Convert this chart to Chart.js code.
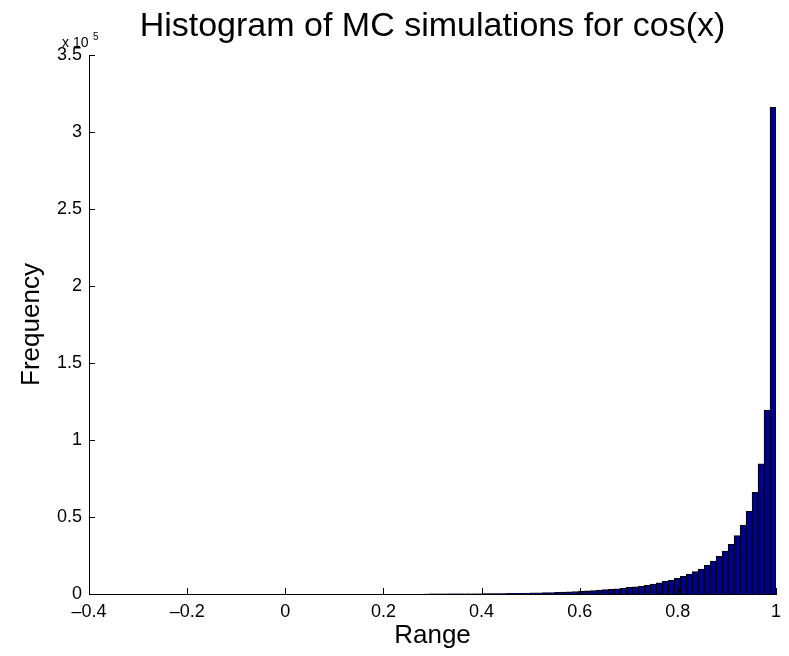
<!DOCTYPE html>
<html>
<head>
<meta charset="utf-8">
<script src="https://cdn.jsdelivr.net/npm/chart.js@4"></script>
<style>
  html, body { margin: 0; padding: 0; background: #fff; }
  #chart { display: block; }
</style>
</head>
<body>
<canvas id="chart" width="789" height="656"></canvas>
<script>
// --- bin centres (Range) and counts ---
const binCenters = [
  0.2863, 0.2985, 0.3107, 0.3229, 0.3351, 0.3473, 0.3595, 0.3717, 0.3839, 0.3961,
  0.4083, 0.4205, 0.4327, 0.4449, 0.4571, 0.4693, 0.4815, 0.4937, 0.5059, 0.5181,
  0.5303, 0.5425, 0.5547, 0.5669, 0.5791, 0.5913, 0.6035, 0.6157, 0.6279, 0.6401,
  0.6523, 0.6645, 0.6767, 0.6889, 0.7011, 0.7133, 0.7255, 0.7377, 0.7499, 0.7621,
  0.7743, 0.7865, 0.7987, 0.8109, 0.8231, 0.8353, 0.8475, 0.8597, 0.8719, 0.8841,
  0.8963, 0.9085, 0.9207, 0.9329, 0.9451, 0.9573, 0.9695, 0.9817, 0.9939
];
const counts = [
  20, 30, 40, 50, 60, 80, 100, 120, 150, 180,
  200, 250, 300, 350, 400, 450, 500, 600, 700, 800,
  900, 1000, 1100, 1200, 1400, 1600, 1800, 2000, 2200, 2500,
  2800, 3000, 3400, 3900, 4300, 4700, 5200, 5600, 6500, 7300,
  8200, 9100, 10200, 11500, 13000, 14500, 16200, 18600, 21400, 24500,
  27900, 32300, 37900, 44600, 53700, 66000, 84600, 119500, 316000
];
const xTicks = [-0.4, -0.2, 0, 0.2, 0.4, 0.6, 0.8, 1];
const yTicks = [0, 0.5, 1, 1.5, 2, 2.5, 3, 3.5]; // x 10^5

const FONT = '"Liberation Sans", Arial, Helvetica, sans-serif';

// inward tick marks, exponent label and title (MATLAB style)
const matlabDecor = {
  id: 'matlabDecor',
  afterDatasetsDraw(chart) {
    const ctx = chart.ctx;
    const xs = chart.scales.x, ys = chart.scales.y;
    const a = chart.chartArea;
    ctx.save();
    ctx.strokeStyle = '#000';
    ctx.lineWidth = 1;
    ctx.beginPath();
    xTicks.forEach(v => {
      const px = Math.round(xs.getPixelForValue(v)) + 0.5;
      ctx.moveTo(px, a.bottom);
      ctx.lineTo(px, a.bottom - 6);
    });
    yTicks.forEach(v => {
      const py = Math.round(ys.getPixelForValue(v * 1e5)) + 0.5;
      ctx.moveTo(a.left, py);
      ctx.lineTo(a.left + 6, py);
    });
    ctx.stroke();
    ctx.restore();
  },
  afterDraw(chart) {
    const ctx = chart.ctx;
    const a = chart.chartArea;
    ctx.save();
    ctx.fillStyle = '#000';
    ctx.textBaseline = 'alphabetic';
    ctx.textAlign = 'left';
    ctx.font = '14px ' + FONT;
    ctx.fillText('x 10', a.left - 27, a.top - 8);
    ctx.font = '10px ' + FONT;
    ctx.fillText('5', a.left + 4, a.top - 15);
    ctx.textAlign = 'center';
    ctx.font = '34px ' + FONT;
    ctx.fillText('Histogram of MC simulations for cos(x)', (a.left + a.right) / 2, 36);
    ctx.restore();
  }
};

new Chart(document.getElementById('chart'), {
  type: 'bar',
  data: {
    datasets: [{
      data: binCenters.map((c, i) => ({ x: c, y: counts[i] })),
      backgroundColor: '#00008f',
      borderColor: '#000',
      borderWidth: 1,
      barPercentage: 1,
      categoryPercentage: 1
    }]
  },
  options: {
    responsive: false,
    animation: false,
    layout: { padding: { top: 55, right: 13, bottom: 0, left: 0 } },
    plugins: {
      legend: { display: false },
      title: { display: false },
      tooltip: { enabled: false }
    },
    scales: {
      x: {
        type: 'linear',
        min: -0.4,
        max: 1,
        offset: false,
        afterFit: scale => { scale.height = 62; },
        afterBuildTicks: scale => { scale.ticks = xTicks.map(v => ({ value: v })); },
        grid: { display: false, drawTicks: false },
        border: { display: true, color: '#000', width: 1 },
        ticks: {
          color: '#000',
          padding: 7,
          maxRotation: 0,
          font: { family: FONT, size: 18 },
          callback: v => {
            const r = Math.round(v * 10) / 10;
            return r < 0 ? '\u2013' + Math.abs(r) : String(r);
          }
        },
        title: {
          display: true,
          text: 'Range',
          color: '#000',
          font: { family: FONT, size: 26 },
          padding: { top: 0, bottom: 5 }
        }
      },
      y: {
        min: 0,
        max: 350000,
        afterFit: scale => { scale.width = 89; },
        afterBuildTicks: scale => { scale.ticks = yTicks.map(v => ({ value: v * 1e5 })); },
        grid: { display: false, drawTicks: false },
        border: { display: true, color: '#000', width: 1 },
        ticks: {
          color: '#000',
          padding: 7,
          font: { family: FONT, size: 18 },
          callback: v => String(Math.round(v / 1e4) / 10)
        },
        title: {
          display: true,
          text: 'Frequency',
          color: '#000',
          font: { family: FONT, size: 26 },
          padding: { top: 16, bottom: 0 }
        }
      }
    }
  },
  plugins: [matlabDecor]
});
</script>
</body>
</html>
